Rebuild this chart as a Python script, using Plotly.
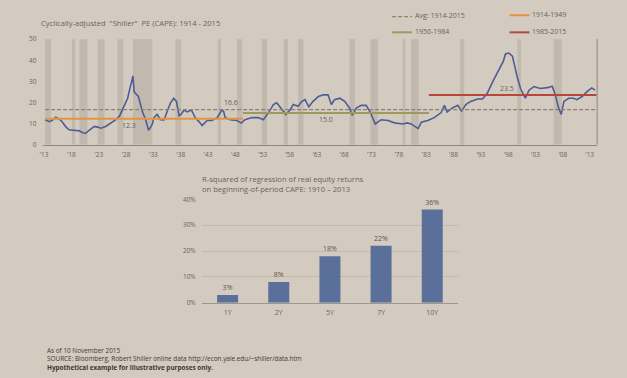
import plotly.graph_objects as go

W, H = 627, 378

# ---------------- data ----------------
CAPE_YEAR = [1913.0, 1913.8, 1914.4, 1915.0, 1916.0, 1916.9, 1917.5, 1918.5, 1919.4, 1920.0,
             1920.6, 1921.2, 1922.2, 1922.8, 1923.4, 1924.3, 1925.3, 1926.2, 1926.9, 1927.7,
             1928.4, 1928.9, 1929.2, 1929.4, 1929.6, 1929.9, 1930.4, 1930.8, 1931.1, 1931.8,
             1932.3, 1932.7, 1933.0, 1933.3, 1933.9, 1934.5, 1935.2, 1935.8, 1936.4, 1937.0,
             1937.5, 1938.0, 1938.4, 1938.9, 1939.5, 1940.3, 1941.0, 1941.7, 1942.3, 1943.2,
             1944.1, 1945.1, 1946.0, 1946.3, 1946.6, 1947.5, 1948.8, 1949.6, 1950.3, 1951.6,
             1952.8, 1953.7, 1954.7, 1955.6, 1956.2, 1957.1, 1957.9, 1958.7, 1959.3, 1960.2,
             1960.9, 1961.5, 1962.2, 1963.0, 1964.0, 1964.9, 1965.8, 1966.4, 1967.0, 1968.0,
             1968.9, 1969.8, 1970.3, 1971.1, 1972.0, 1972.9, 1973.7, 1974.6, 1975.7, 1977.0,
             1978.2, 1979.7, 1980.6, 1981.3, 1981.9, 1982.6, 1983.2, 1984.4, 1985.6, 1986.9,
             1987.5, 1988.0, 1989.0, 1990.0, 1990.7, 1991.5, 1992.4, 1993.7, 1994.6, 1995.5,
             1996.5, 1997.3, 1998.0, 1998.5, 1998.9, 1999.5, 2000.2, 2000.6, 2001.1, 2001.7,
             2002.6, 2003.3, 2004.2, 2005.4, 2006.7, 2007.6, 2008.2, 2008.8, 2009.3, 2009.8,
             2010.7, 2011.6, 2012.2, 2013.2, 2014.1, 2015.0, 2015.6]
CAPE_VALUE = [11.8, 10.9, 11.6, 13.0, 11.4, 8.3, 7.0, 6.9, 6.5, 5.6,
              5.4, 6.8, 8.6, 8.3, 7.8, 8.6, 10.2, 11.8, 13.6, 18.3,
              22.0, 27.5, 30.0, 32.5, 25.0, 24.3, 22.8, 19.0, 16.0, 11.4,
              6.8, 8.3, 9.8, 12.8, 14.4, 11.8, 11.7, 15.9, 19.8, 22.0,
              20.5, 13.6, 14.4, 16.4, 15.5, 16.4, 12.8, 10.9, 9.0, 11.4,
              11.4, 12.8, 16.4, 15.8, 12.8, 11.8, 11.4, 10.2, 11.8, 12.8,
              12.8, 11.8, 15.2, 19.0, 19.8, 17.0, 14.3, 16.4, 19.0, 18.2,
              20.5, 21.3, 17.9, 20.5, 22.8, 23.6, 23.6, 19.0, 21.3, 22.0,
              20.5, 17.4, 13.9, 17.4, 18.6, 18.6, 15.2, 9.8, 11.8, 11.4,
              10.3, 9.8, 10.3, 9.8, 8.8, 7.6, 10.6, 11.4, 12.8, 15.2,
              18.6, 15.5, 17.4, 18.6, 15.9, 19.0, 20.5, 21.6, 21.6, 24.3,
              29.7, 33.5, 37.3, 39.6, 43.0, 43.4, 41.9, 37.3, 31.9, 26.6,
              22.0, 25.8, 27.5, 26.6, 27.0, 27.7, 23.6, 17.4, 14.3, 20.5,
              22.0, 22.0, 21.3, 22.8, 25.1, 26.9, 25.8]

# recession shading (start, end)
REC_START = [1913.0, 1918.0, 1919.4, 1922.8, 1926.5, 1929.4, 1937.3, 1945.2, 1948.8, 1953.4,
             1957.5, 1960.2, 1969.8, 1973.7, 1979.7, 1981.3, 1990.4, 2001.1, 2007.9]
REC_END = [1914.1, 1918.6, 1920.9, 1924.1, 1927.6, 1933.0, 1938.4, 1945.8, 1949.8, 1954.4,
           1958.3, 1961.2, 1970.8, 1975.1, 1980.2, 1982.7, 1991.2, 2001.8, 2009.4]

# period averages
AVG_NAMES = ["Avg: 1914-2015", "1914-1949", "1950-1984", "1985-2015"]
AVG_START = [1913.0, 1913.0, 1949.9, 1984.6]
AVG_END = [2015.9, 1949.9, 1984.6, 2015.9]
AVG_VALUE = [16.6, 12.3, 15.0, 23.5]
AVG_LABEL_X = [1947.7, 1928.7, 1965.5, 1999.2]

X_TICK_POS = [1912.8, 1917.9, 1923.0, 1928.1, 1933.2, 1938.3, 1943.4, 1948.5, 1953.6, 1958.6,
              1963.7, 1968.8, 1973.9, 1979.0, 1984.1, 1989.2, 1994.3, 1999.4, 2004.5, 2009.6, 2014.6]
X_TICK_TEXT = ["'13", "'18", "'23", "'28", "'33", "'38", "'43", "'48", "'53", "'58", "'63",
               "'68", "'73", "'78", "'83", "'88", "'93", "'98", "'03", "'08", "'13"]
Y_TICKS = [0, 10, 20, 30, 40, 50]

HORIZONS = ["1Y", "2Y", "5Y", "7Y", "10Y"]
R_SQUARED = [3, 8, 18, 22, 36]
R_LABELS = ["3%", "8%", "18%", "22%", "36%"]

# ---------------- style ----------------
BG = "#d3cbbf"
TXT = "#6b6458"
AXIS = "#8e8679"
FONT = "Open Sans, Noto Sans, sans-serif"
AVG_COLORS = ["#8a8273", "#e39443", "#9c9a5c", "#b6473b"]
AVG_DASH = ["4px,2px", "solid", "solid", "solid"]
AVG_WIDTH = [1.2, 2.0, 2.0, 2.0]
AVG_LABEL_SHIFT = [7, -7, -7, 7]


def px(x):
    return x / W


def py(y):
    return 1 - y / H


fig = go.Figure()

# recession shading
for s, e in zip(REC_START, REC_END):
    fig.add_shape(type="rect", x0=s, x1=e, xref="x", yref="y domain", y0=0, y1=1,
                  fillcolor="#c1b9ad", line_width=0, layer="below")

fig.add_trace(go.Scatter(x=CAPE_YEAR, y=CAPE_VALUE, mode="lines",
                         line=dict(color="#4d5d95", width=1.6),
                         xaxis="x", yaxis="y", showlegend=False, hoverinfo="skip"))

for i in range(len(AVG_VALUE)):
    fig.add_trace(go.Scatter(x=[AVG_START[i], AVG_END[i]], y=[AVG_VALUE[i], AVG_VALUE[i]],
                             mode="lines", name=AVG_NAMES[i],
                             line=dict(color=AVG_COLORS[i], width=AVG_WIDTH[i], dash=AVG_DASH[i]),
                             xaxis="x", yaxis="y", showlegend=False))
    fig.add_annotation(x=AVG_LABEL_X[i], y=AVG_VALUE[i], xref="x", yref="y",
                       text=f"{AVG_VALUE[i]:.1f}", showarrow=False,
                       yshift=AVG_LABEL_SHIFT[i], font=dict(size=7, color=TXT, family=FONT))

# bar chart
fig.add_trace(go.Bar(x=HORIZONS, y=R_SQUARED, text=R_LABELS, textposition="outside",
                     marker=dict(color="#5a6f9a", line_width=0),
                     textfont=dict(size=7, color="#5c554b", family=FONT),
                     cliponaxis=False, xaxis="x2", yaxis="y2", showlegend=False))

# right border of top chart
fig.add_shape(type="line", xref="x domain", yref="y domain", x0=1, x1=1, y0=0, y1=1,
              line=dict(color=AXIS, width=1))

# manual legend
leg = [(391, 11, 0), (509, 9.5, 1), (391, 27, 2), (509, 27, 3)]
for lx, ly, i in leg:
    fig.add_shape(type="line", xref="paper", yref="paper", x0=px(lx), x1=px(lx + 20),
                  y0=py(ly + 1), y1=py(ly + 1),
                  line=dict(color=AVG_COLORS[i], width=AVG_WIDTH[i] if i else 1.2, dash=AVG_DASH[i]))
    fig.add_annotation(x=px(lx + 21), y=py(ly), xref="paper", yref="paper", text=AVG_NAMES[i],
                       showarrow=False, xanchor="left", yanchor="middle",
                       font=dict(size=7, color=TXT, family=FONT))

# titles
fig.add_annotation(x=px(36), y=py(18), xref="paper", yref="paper",
                   text='Cyclically-adjusted  "Shiller"  PE (CAPE): 1914 - 2015',
                   showarrow=False, xanchor="left", yanchor="middle",
                   font=dict(size=7.6, color=TXT, family=FONT))
fig.add_annotation(x=px(198), y=py(183), xref="paper", yref="paper",
                   text="R-squared of regression of real equity returns<br>on beginning-of-period CAPE: 1910 \u2013 2013",
                   showarrow=False, xanchor="left", yanchor="middle", align="left",
                   font=dict(size=7.6, color=TXT, family=FONT))

# footnotes (one block)
fig.add_annotation(x=px(43), y=py(363), xref="paper", yref="paper",
                   text="As of 10 November 2015<br>"
                        "SOURCE: Bloomberg, Robert Shiller online data http://econ.yale.edu/~shiller/data.htm<br>"
                        "<b>Hypothetical example for illustrative purposes only.</b>",
                   showarrow=False, xanchor="left", yanchor="middle", align="left", borderpad=0,
                   font=dict(size=6.4, color="#3e3932", family=FONT))

fig.update_layout(
    width=W, height=H, margin=dict(l=0, r=0, t=0, b=0),
    paper_bgcolor=BG, plot_bgcolor=BG, bargap=0.59,
    font=dict(family=FONT, color=TXT),
    xaxis=dict(domain=[px(40), px(597)], range=[1912.57, 2016.0],
               tickvals=X_TICK_POS, ticktext=X_TICK_TEXT, showgrid=False, zeroline=False,
               showline=True, linecolor=AXIS, linewidth=1, ticks="outside", ticklen=4,
               tickcolor=BG, tickfont=dict(size=6.5, color=TXT, family=FONT), anchor="y"),
    yaxis=dict(domain=[py(143), py(35)], range=[0, 50], tickvals=Y_TICKS,
               showgrid=False, zeroline=False, showline=False, ticks="outside", ticklen=4,
               tickcolor=BG, tickfont=dict(size=6.5, color=TXT, family=FONT), anchor="x"),
    xaxis2=dict(domain=[px(200), px(457)], type="category", showgrid=False, zeroline=False,
                showline=True, linecolor="#9f978a", linewidth=1, ticks="outside", ticklen=3,
                tickcolor=BG, tickfont=dict(size=7, color=TXT, family=FONT), anchor="y2"),
    yaxis2=dict(domain=[py(305), py(199)], range=[0, 40], dtick=10, ticksuffix="%",
                showgrid=True, gridcolor="#c2baae", gridwidth=1, zeroline=False,
                showline=False, ticks="outside", ticklen=4, tickcolor=BG,
                tickfont=dict(size=6.5, color=TXT, family=FONT), anchor="x2"),
)

fig.write_html("out.html", config={"displayModeBar": False},
               post_script="document.body.style.margin='0';document.body.style.background='%s';" % BG)
